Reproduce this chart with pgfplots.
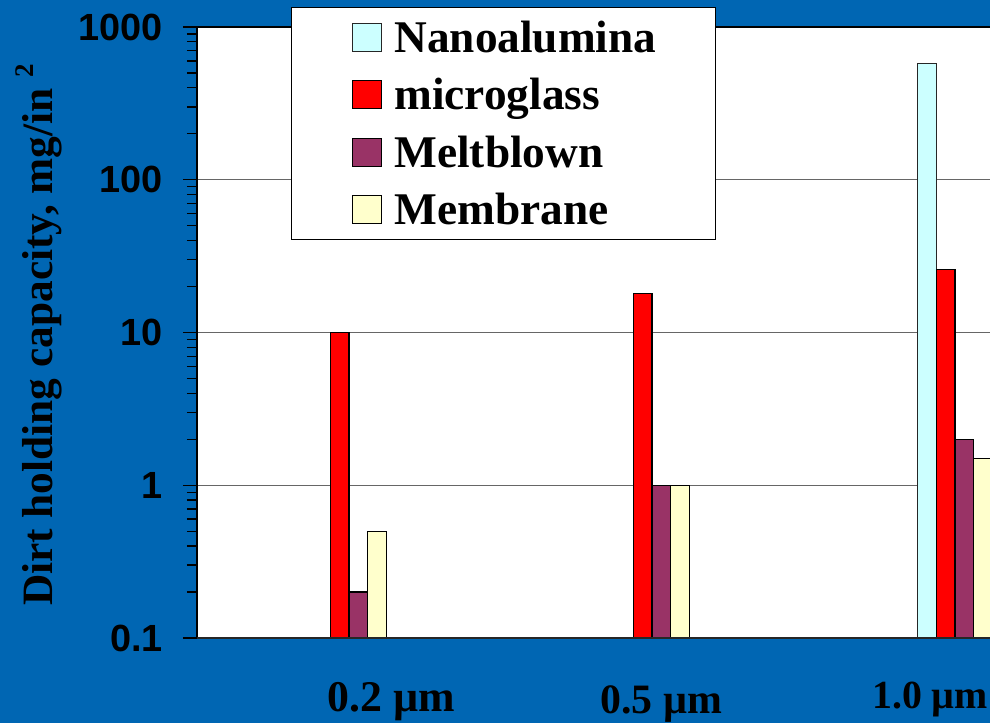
\documentclass[border=0pt]{standalone}
\usepackage{pgfplots}
\pgfplotsset{compat=1.18}
\usepackage{fontspec}
\setmainfont{Liberation Serif}
\setsansfont{Liberation Sans}
\definecolor{bgblue}{RGB}{0,102,179}
\definecolor{nano}{RGB}{204,255,255}
\definecolor{micro}{RGB}{255,0,0}
\definecolor{melt}{RGB}{153,51,102}
\definecolor{memb}{RGB}{255,255,204}
\begin{document}
\begin{tikzpicture}
\useasboundingbox (0,0) rectangle (990bp,723bp);
\clip (0,0) rectangle (990bp,723bp);
\fill[bgblue] (0,0) rectangle (990bp,723bp);
\begin{axis}[
  name=ax,
  at={(197bp,85bp)}, anchor=south west,
  scale only axis, width=797bp, height=611bp,
  ymode=log, log origin=infty,
  ymin=0.1, ymax=1000,
  xmin=-0.5017, xmax=2.1287,
  ybar=0pt, bar width=18.6bp,
  axis background/.style={fill=white},
  axis line style={black, line width=1.2bp},
  ymajorgrids, grid style={draw=black!60, line width=1bp},
  ytick={0.1,1,10,100,1000},
  yticklabels={0.1,1,10,100,1000},
  minor ytick={0.2,0.3,0.4,0.5,0.6,0.7,0.8,0.9,2,3,4,5,6,7,8,9,20,30,40,50,60,70,80,90,200,300,400,500,600,700,800,900},
  yticklabel style={font=\sffamily\bfseries\fontsize{38}{38}\selectfont, anchor=east, inner sep=0pt, xshift=-20bp},
  tick align=outside, major tick length=14bp, minor tick length=10bp,
  tick style={black, line width=1.3bp},
  xtick={0.139,1.030,1.918},
  xticklabels={{\fontsize{44}{44}\selectfont 0.2 µm},{\raisebox{-1.5bp}{\fontsize{42}{42}\selectfont 0.5 µm}},{\raisebox{3bp}{\fontsize{40}{40}\selectfont 1.0 µm}}},
  x tick style={draw=none},
  xticklabel style={font=\bfseries, anchor=base, yshift=-60bp},
  ylabel={Dirt holding capacity, mg/in \raisebox{19bp}{\fontsize{27}{27}\selectfont 2}},
  ylabel style={font=\bfseries\fontsize{43.5}{43.5}\selectfont, at={(rel axis cs:-0.1819,0.4959)}, anchor=base},
  legend style={at={(rel axis cs:0.1179,1.0327)}, anchor=north west, draw=black, line width=1bp, fill=white,
    inner xsep=0pt, inner ysep=1bp, row sep=0pt, nodes={inner sep=0pt},
    font=\bfseries\fontsize{45.5}{45.5}\selectfont},
  legend cell align=left,
  legend image code/.code={\path[fill=none, draw=none] (-61bp,-28.75bp) rectangle (42bp,28.75bp); \draw[#1, line width=1.2bp] (0bp,-14bp) rectangle (29bp,14bp);},
]
\addplot[fill=nano, draw=black!85, line width=1.2bp] coordinates {(2,580)};
\addplot[fill=micro, draw=black, line width=1.2bp] coordinates {(0,10) (1,18) (2,26)};
\addplot[fill=melt, draw=black, line width=1.2bp] coordinates {(0,0.2) (1,1) (2,2)};
\addplot[fill=memb, draw=black, line width=1.2bp] coordinates {(0,0.5) (1,1) (2,1.5)};
\legend{\makebox[321bp][l]{Nanoalumina},\makebox[321bp][l]{microglass},\makebox[321bp][l]{Meltblown},\makebox[321bp][l]{Membrane}}
\end{axis}
\draw[line width=2.5bp, black!85] (ax.south west) -- ++(810bp,0);
\end{tikzpicture}
\end{document}
